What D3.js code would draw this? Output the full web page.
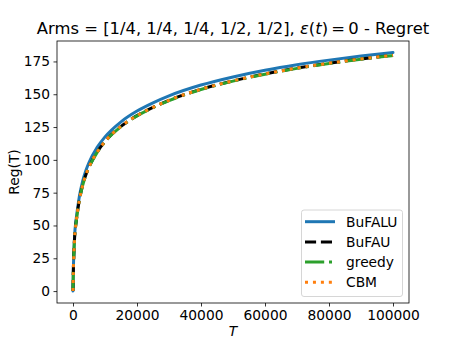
<!DOCTYPE html>
<html><head><meta charset="utf-8">
<script src="https://cdn.jsdelivr.net/npm/d3@7/dist/d3.min.js"></script>
<style>body{margin:0;background:#fff}svg{display:block;font-family:"DejaVu Sans",sans-serif}</style>
</head><body><svg id="c" width="455" height="341"></svg>
<script>
const T = [0, 100, 250, 500, 1000, 1500, 2000, 3000, 4000, 5000, 7500, 10000, 15000, 20000, 25000, 30000, 40000, 50000, 60000, 70000, 80000, 90000, 100000];
const bufalu = [0, 15, 28, 42, 55, 64.2, 72.3, 83.6, 91.7, 98, 109.3, 117.5, 129, 137.2, 143.5, 148.8, 157, 163.2, 168.3, 172.5, 176, 179.1, 181.8];
const bufau  = [0, 14.5, 27, 40.5, 53, 62, 69.5, 80.5, 88.5, 94.5, 105.7, 114, 125.5, 133.7, 140, 145.4, 153.8, 160.2, 165.5, 169.9, 173.6, 176.9, 179.7];
const greedy = [0, 14.5, 27, 40.3, 52.8, 61.8, 69.3, 80.3, 88.3, 94.3, 105.5, 113.8, 125.3, 133.5, 139.8, 145.2, 153.6, 160, 165.3, 169.7, 173.4, 176.7, 179.5];
const cbm    = [0, 14.5, 27, 40.5, 53, 62, 69.5, 80.5, 88.5, 94.5, 105.7, 114, 125.5, 133.7, 140, 145.4, 153.8, 160.2, 165.5, 169.9, 173.6, 176.9, 179.7];
const seriesNames = ["BuFALU", "BuFAU", "greedy", "CBM"];
const xTicks = [0, 20000, 40000, 60000, 80000, 100000];
const yTicks = [0, 25, 50, 75, 100, 125, 150, 175];

const svg = d3.select("#c");
const L = 57, R = 409, Tp = 41, B = 303;
const x = d3.scaleLinear().domain([-5000, 105000]).range([L, R]);
const y = d3.scaleLinear().domain([-9.075, 190.575]).range([B, Tp]);

const styles = [
  {color: "#1f77b4", dash: null, cap: "round"},
  {color: "#000000", dash: "11.1,4.8", cap: "butt"},
  {color: "#2ca02c", dash: "19.2,4.8,3,4.8", cap: "butt"},
  {color: "#ff7f0e", dash: "3,4.95", cap: "butt"}
];
const data = [bufalu, bufau, greedy, cbm];

const line = d3.line().x(d => x(d[0])).y(d => y(d[1])).curve(d3.curveMonotoneX);
const g = svg.append("g");
data.forEach((vals, i) => {
  g.append("path").datum(T.map((t, k) => [t, vals[k]]))
    .attr("d", line).attr("fill", "none")
    .attr("stroke", styles[i].color).attr("stroke-width", 3)
    .attr("stroke-dasharray", styles[i].dash)
    .attr("stroke-linecap", styles[i].cap);
});

// axes
const xa = svg.append("g").attr("transform", `translate(0,${B})`)
  .call(d3.axisBottom(x).tickValues(xTicks).tickFormat(d3.format("d")).tickSizeOuter(0).tickSize(3.5).tickPadding(3.5));
const ya = svg.append("g").attr("transform", `translate(${L},0)`)
  .call(d3.axisLeft(y).tickValues(yTicks).tickSizeOuter(0).tickSize(3.5).tickPadding(3.5));
[xa, ya].forEach(a => {
  a.select(".domain").remove();
  a.selectAll("text").attr("font-size", 13.8).attr("font-family", "DejaVu Sans").attr("fill", "#000");
  a.selectAll("line").attr("stroke", "#000").attr("stroke-width", 0.8);
});
svg.append("rect").attr("x", L).attr("y", Tp).attr("width", R - L).attr("height", B - Tp)
  .attr("fill", "none").attr("stroke", "#000").attr("stroke-width", 0.8);

// labels
svg.append("text").attr("x", 233).attr("y", 336).attr("text-anchor", "middle")
  .attr("font-size", 13.8).attr("font-style", "italic").text("T");
svg.append("text").attr("transform", "translate(19,172) rotate(-90)").attr("text-anchor", "middle")
  .attr("font-size", 13.8).text("Reg(T)");

const title = svg.append("text").attr("x", 233).attr("y", 34).attr("text-anchor", "middle").attr("font-size", 16.4);
title.append("tspan").text("Arms = [1/4, 1/4, 1/4, 1/2, 1/2], ");
title.append("tspan").attr("font-style", "italic").text("ε");
title.append("tspan").text("(");
title.append("tspan").attr("font-style", "italic").text("t");
title.append("tspan").text(")\u2009=\u20090 - Regret");

// legend
const lg = svg.append("g");
lg.append("rect").attr("x", 301.5).attr("y", 210).attr("width", 101).attr("height", 86.5).attr("rx", 2.5)
  .attr("fill", "#fff").attr("fill-opacity", 0.8).attr("stroke", "#ccc").attr("stroke-width", 0.8);
seriesNames.forEach((n, i) => {
  const yy = 221.7 + i * 20.2;
  lg.append("line").attr("x1", 305).attr("x2", 335).attr("y1", yy).attr("y2", yy)
    .attr("stroke", styles[i].color).attr("stroke-width", 3).attr("stroke-dasharray", styles[i].dash);
  lg.append("text").attr("x", 346).attr("y", yy + 5).attr("font-size", 13.8).text(n);
});
</script></body></html>
